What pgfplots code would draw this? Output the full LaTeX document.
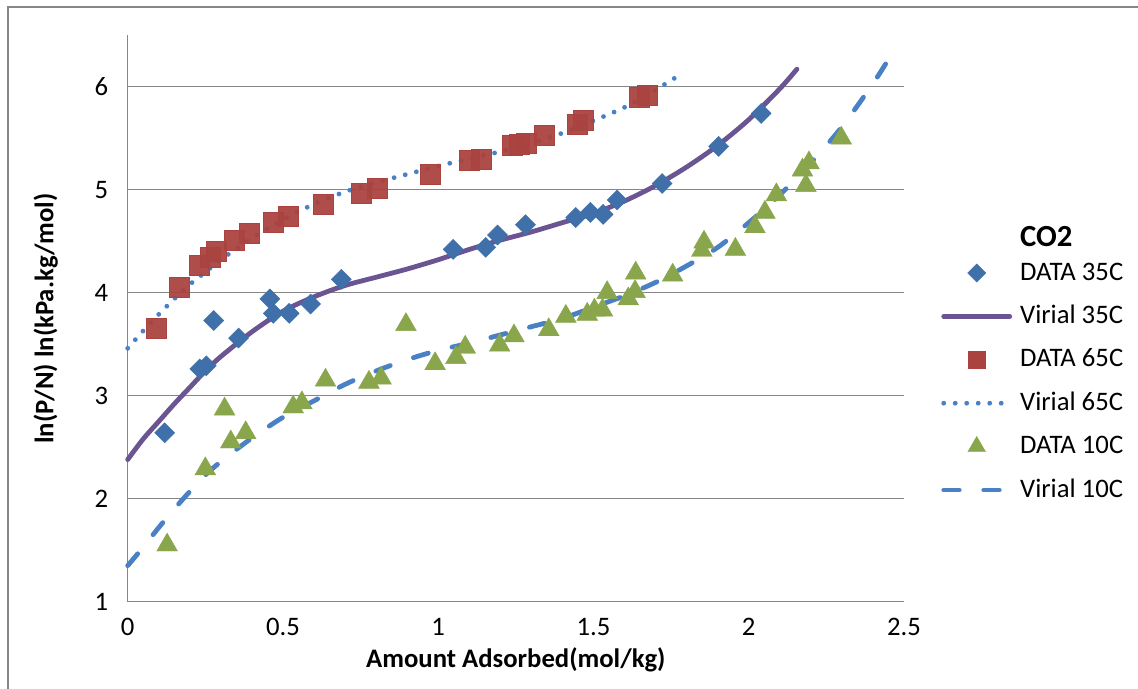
\documentclass[border=0pt]{standalone}
\usepackage{fontspec}
\setmainfont{Carlito}
\usepackage{pgfplots}
\pgfplotsset{compat=1.18}

\definecolor{axgray}{RGB}{134,134,134}
\definecolor{dblue}{RGB}{64,112,170}
\definecolor{dred}{RGB}{170,67,63}
\definecolor{dgreen}{RGB}{137,166,77}
\definecolor{vpurple}{RGB}{106,84,146}
\definecolor{vblue}{RGB}{74,128,196}

\newcommand\chartfont{\fontsize{26.7bp}{32bp}\selectfont}

\pgfplotstableread{
x y
0.119 2.64
0.232 3.26
0.253 3.29
0.277 3.73
0.357 3.56
0.458 3.94
0.469 3.80
0.520 3.80
0.589 3.89
0.688 4.13
1.048 4.42
1.153 4.44
1.191 4.56
1.281 4.66
1.443 4.73
1.490 4.78
1.531 4.76
1.576 4.90
1.721 5.06
1.903 5.42
2.040 5.74
}\dataA

\pgfplotstableread{
x y
0.093 3.66
0.165 4.05
0.229 4.27
0.265 4.34
0.286 4.40
0.343 4.51
0.392 4.58
0.470 4.68
0.516 4.74
0.630 4.86
0.753 4.97
0.802 5.01
0.973 5.15
1.100 5.29
1.140 5.30
1.237 5.43
1.260 5.44
1.284 5.45
1.340 5.53
1.449 5.64
1.466 5.67
1.646 5.90
1.672 5.92
}\dataB

\pgfplotstableread{
x y
0.127 1.55
0.250 2.29
0.312 2.87
0.332 2.55
0.380 2.64
0.533 2.89
0.561 2.93
0.637 3.15
0.777 3.13
0.816 3.17
0.896 3.69
0.990 3.31
1.057 3.37
1.087 3.47
1.198 3.49
1.244 3.58
1.356 3.64
1.411 3.77
1.480 3.79
1.503 3.83
1.529 3.83
1.544 4.00
1.612 3.94
1.634 4.01
1.636 4.19
1.755 4.17
1.849 4.41
1.856 4.49
1.957 4.42
2.020 4.64
2.052 4.78
2.089 4.95
2.173 5.19
2.184 5.04
2.194 5.26
2.298 5.50
}\dataC

\pgfplotstableread{
x y
0     2.38
0.05  2.58
0.10  2.75
0.15  2.92
0.20  3.08
0.25  3.24
0.30  3.38
0.40  3.62
0.50  3.82
0.60  3.96
0.70  4.07
0.80  4.15
0.90  4.23
1.00  4.32
1.10  4.42
1.20  4.51
1.30  4.59
1.40  4.68
1.50  4.77
1.60  4.89
1.70  5.04
1.80  5.22
1.90  5.43
2.00  5.68
2.10  5.98
2.155 6.17
}\virA

\pgfplotstableread{
x y
0     3.46
0.05  3.63
0.10  3.79
0.15  3.94
0.20  4.08
0.25  4.20
0.30  4.32
0.40  4.53
0.50  4.71
0.60  4.86
0.70  4.98
0.80  5.07
0.90  5.15
1.00  5.23
1.10  5.30
1.20  5.37
1.30  5.45
1.40  5.55
1.50  5.67
1.60  5.80
1.70  5.97
1.765 6.09
}\virB

\pgfplotstableread{
x y
0     1.35
0.05  1.53
0.10  1.72
0.15  1.90
0.20  2.07
0.25  2.23
0.30  2.36
0.40  2.59
0.50  2.79
0.60  2.95
0.70  3.11
0.80  3.24
0.90  3.35
1.00  3.44
1.10  3.51
1.20  3.59
1.30  3.67
1.40  3.75
1.50  3.86
1.60  3.97
1.70  4.10
1.80  4.26
1.90  4.44
2.00  4.68
2.10  4.95
2.20  5.26
2.30  5.61
2.40  6.03
2.455 6.29
}\virC

\begin{document}
\begin{tikzpicture}
\useasboundingbox (0,0) rectangle (1138bp,689bp);
% chart area frame
\draw[axgray, line width=1.2bp] (8bp,-20bp) -- (8bp,682bp) -- (1160bp,682bp);
\begin{axis}[
  at={(127.7bp,87.3bp)}, anchor=south west,
  scale only axis, width=776.3bp, height=566.5bp,
  xmin=0, xmax=2.5, ymin=1, ymax=6.5,
  xtick={0,0.5,1,1.5,2,2.5}, ytick={1,2,3,4,5,6},
  axis lines=left,
  axis line style={-, draw=axgray, line width=1.5bp},
  major tick length=0pt,
  ymajorgrids,
  major grid style={axgray, line width=1.5bp},
  tick label style={font=\chartfont, /pgf/number format/assume math mode=true},
  yticklabel style={xshift=-16bp},
  xticklabel style={yshift=-13bp},
  xlabel={Amount Adsorbed(mol/kg)},
  ylabel={ln(P/N) ln(kPa.kg/mol)},
  x label style={at={(axis description cs:0.5,-0.1164)}, anchor=base, font=\chartfont\bfseries},
  y label style={at={(axis description cs:-0.1056,0.5)}, anchor=center, font=\chartfont\bfseries},
  clip=false,
  legend style={at={(axis description cs:1.0478,0.6035)}, anchor=north west,
    draw=none, fill=none, inner sep=0pt, font=\chartfont,
    nodes={inner sep=0pt, text height=20bp, text depth=6bp},
    row sep=17.4bp, column sep=8bp},
  legend cell align=left,
  legend image code/.code={\draw[mark repeat=2,mark phase=2,#1] plot coordinates {(0bp,0bp) (33bp,0bp) (66bp,0bp)};},
]
% legend entries
\addlegendimage{only marks, mark=square*, mark size=6.4bp, mark options={rotate=45, fill=dblue, draw=dblue}}
\addlegendentry{DATA 35C}
\addlegendimage{vpurple, line width=4.8bp, line cap=round}
\addlegendentry{Virial 35C}
\addlegendimage{only marks, mark=square*, mark size=8.6bp, mark options={fill=dred, draw=dred}}
\addlegendentry{DATA 65C}
\addlegendimage{vblue, line width=4.8bp, line cap=round, dash pattern=on 0bp off 11.5bp}
\addlegendentry{Virial 65C}
\addlegendimage{only marks, mark=triangle*, mark size=10.2bp, mark options={fill=dgreen, draw=dgreen}}
\addlegendentry{DATA 10C}
\addlegendimage{vblue, line width=4.8bp, line cap=round, dash pattern=on 15.5bp off 24.5bp}
\addlegendentry{Virial 10C}

% fitted virial curves
\addplot[forget plot, vpurple, line width=4.8bp, line cap=round, smooth] table {\virA};
\addplot[forget plot, vblue, line width=4.8bp, line cap=round, dash pattern=on 0bp off 11.5bp, smooth] table {\virB};
\addplot[forget plot, vblue, line width=4.8bp, line cap=round, dash pattern=on 15.5bp off 24.5bp, smooth] table {\virC};

% measured points
\addplot[forget plot, only marks, mark=square*, mark size=7.1bp, mark options={rotate=45, fill=dblue, draw=dblue}] table {\dataA};
\addplot[forget plot, only marks, mark=square*, mark size=10bp, mark options={fill=dred, draw=dred, fill opacity=0.95}] table {\dataB};
\addplot[forget plot, only marks, mark=triangle*, mark size=12bp, mark options={fill=dgreen, draw=dgreen}] table {\dataC};

\node[anchor=base west, font=\fontsize{30.7bp}{36bp}\selectfont\bfseries, inner sep=0pt] at (axis description cs:1.1494,0.6267) {CO2};
\end{axis}
\end{tikzpicture}
\end{document}
